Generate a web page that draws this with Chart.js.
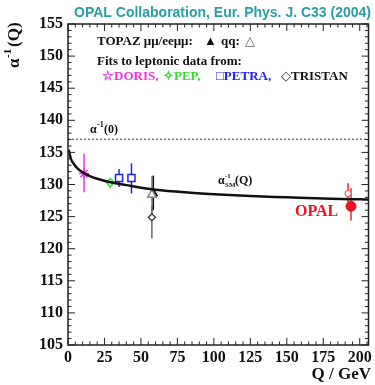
<!DOCTYPE html>
<html>
<head>
<meta charset="utf-8">
<script src="https://cdn.jsdelivr.net/npm/chart.js@4"></script>
<style>
  html, body { margin: 0; padding: 0; background: #fff; }
  #wrap { width: 375px; height: 385px; }
</style>
</head>
<body>
<div id="wrap"><canvas id="c" width="375" height="385"></canvas></div>
<script>
// running alpha^-1 (SM curve)
const smQ = [0.5, 2, 4, 7, 10, 15, 20, 30, 40, 50, 60, 80, 100, 125, 150, 175, 200, 206];
const smA = [135.4, 134.0, 133.2, 132.4, 131.9, 131.3, 130.9, 130.3, 129.9, 129.5, 129.2, 128.8, 128.5, 128.2, 128.0, 127.8, 127.7, 127.65];
const alpha0 = 137.036;

// measurements: Q, value, lower and upper end of error bar
const dorisQ = [11], dorisA = [131.7], dorisLo = [128.8], dorisHi = [134.8];
const pepQ = [29], pepA = [130.3], pepLo = [129.4], pepHi = [131.0];
const petraQ = [35, 43.5], petraA = [131.0, 131.0], petraLo = [129.6, 128.6], petraHi = [132.4, 133.3];
const topazMuQ = [58.5], topazMuA = [128.6], topazMuLo = [126.0], topazMuHi = [131.4];
const topazQqQ = [57.5], topazQqA = [128.4], topazQqLo = [125.5], topazQqHi = [131.3];
const tristanQ = [57.5], tristanA = [124.9], tristanLo = [121.6], tristanHi = [126.6];
const opalQ = [194, 192], opalA = [126.6, 128.6], opalLo = [124.4, 127.2], opalHi = [129.4, 130.2];

const xTicks = [0, 25, 50, 75, 100, 125, 150, 175, 200];
const yTicks = [105, 110, 115, 120, 125, 130, 135, 140, 145, 150, 155];

const SERIF = '"Liberation Serif", "DejaVu Serif", serif';
const SANS = '"Liberation Sans", Arial, sans-serif';

function pts(qs, as) {
  return qs.map((q, i) => ({ x: q, y: as[i] }));
}

const errSets = [
  { q: dorisQ, lo: dorisLo, hi: dorisHi, color: '#ee33dd' },
  { q: pepQ, lo: pepLo, hi: pepHi, color: '#33dd33' },
  { q: petraQ, lo: petraLo, hi: petraHi, color: '#2222ee' },
  { q: topazQqQ, lo: topazQqLo, hi: topazQqHi, color: '#888888' },
  { q: tristanQ, lo: tristanLo, hi: tristanHi, color: '#666666' },
  { q: topazMuQ, lo: topazMuLo, hi: topazMuHi, color: '#111111' },
  { q: opalQ, lo: opalLo, hi: opalHi, color: '#ee2233' }
];

// error bars under the markers
const errorBars = {
  id: 'errorBars',
  beforeDatasetsDraw(chart) {
    const { ctx, scales: { x, y } } = chart;
    ctx.save();
    ctx.lineWidth = 1.5;
    errSets.forEach(s => {
      ctx.strokeStyle = s.color;
      s.q.forEach((q, i) => {
        const px = x.getPixelForValue(q);
        ctx.beginPath();
        ctx.moveTo(px, y.getPixelForValue(s.lo[i]));
        ctx.lineTo(px, y.getPixelForValue(s.hi[i]));
        ctx.stroke();
      });
    });
    ctx.restore();
  }
};

// frame, inward ticks on all sides, and the text
const decor = {
  id: 'decor',
  afterDraw(chart) {
    const { ctx, chartArea: a, scales: { x, y } } = chart;
    ctx.save();
    ctx.strokeStyle = '#222';
    ctx.lineWidth = 1.5;
    ctx.strokeRect(a.left, a.top, a.right - a.left, a.bottom - a.top);

    ctx.lineWidth = 1;
    for (let v = 105; v <= 155; v++) {
      const py = y.getPixelForValue(v);
      const len = v % 5 === 0 ? 7 : 3.5;
      ctx.beginPath();
      ctx.moveTo(a.left, py); ctx.lineTo(a.left + len, py);
      ctx.moveTo(a.right, py); ctx.lineTo(a.right - len, py);
      ctx.stroke();
    }
    for (let v = 0; v <= 205; v += 5) {
      const px = x.getPixelForValue(v);
      const len = v % 25 === 0 ? 7 : 3.5;
      ctx.beginPath();
      ctx.moveTo(px, a.bottom); ctx.lineTo(px, a.bottom - len);
      ctx.moveTo(px, a.top); ctx.lineTo(px, a.top + len);
      ctx.stroke();
    }

    // title
    ctx.fillStyle = '#2a9ea4';
    ctx.font = 'bold 14px ' + SANS;
    ctx.textAlign = 'right';
    ctx.textBaseline = 'middle';
    ctx.fillText('OPAL Collaboration, Eur. Phys. J. C33 (2004)', 371, 13);

    // axis titles
    ctx.fillStyle = '#111';
    ctx.font = 'bold 17px ' + SERIF;
    ctx.textAlign = 'right';
    ctx.fillText('Q / GeV', 371, 375);

    ctx.save();
    ctx.translate(15, 40);
    ctx.rotate(-Math.PI / 2);
    ctx.textAlign = 'left';
    ctx.font = 'bold 17px ' + SERIF;
    ctx.fillText('α', -28, 0);
    ctx.font = 'bold 11px ' + SERIF;
    ctx.fillText('-1', -18, -7);
    ctx.font = 'bold 17px ' + SERIF;
    ctx.fillText('(Q)', -7, 0);
    ctx.restore();

    // legend block
    ctx.textAlign = 'left';
    ctx.font = 'bold 13px ' + SERIF;
    ctx.fillStyle = '#111';
    ctx.fillText('TOPAZ μμ/eeμμ:', 97, 42);
    ctx.fillText('▲', 204, 42);
    ctx.fillText('qq:', 221, 42);
    ctx.fillStyle = '#666';
    ctx.fillText('△', 245, 42);
    ctx.fillStyle = '#111';
    ctx.fillText('Fits to leptonic data from:', 97, 62);
    ctx.fillStyle = '#ee33dd';
    ctx.fillText('☆DORIS,', 102, 77);
    ctx.fillStyle = '#33dd33';
    ctx.fillText('✧PEP,', 163, 77);
    ctx.fillStyle = '#2222ee';
    ctx.fillText('□PETRA,', 216, 77);
    ctx.fillStyle = '#111';
    ctx.fillText('◇TRISTAN', 281, 77);

    // curve labels
    ctx.font = 'bold 12px ' + SERIF;
    ctx.fillText('α', 90, 130);
    ctx.font = 'bold 8px ' + SERIF;
    ctx.fillText('-1', 97, 125);
    ctx.font = 'bold 12px ' + SERIF;
    ctx.fillText('(0)', 104, 130);

    ctx.fillText('α', 218, 181);
    ctx.font = 'bold 7px ' + SERIF;
    ctx.fillText('-1', 225, 176);
    ctx.fillText('SM', 225, 185);
    ctx.font = 'bold 12px ' + SERIF;
    ctx.fillText('(Q)', 235, 181);

    ctx.fillStyle = '#ee1122';
    ctx.font = 'bold 16px ' + SERIF;
    ctx.fillText('OPAL', 295, 212);
    ctx.restore();
  }
};

new Chart(document.getElementById('c'), {
  type: 'scatter',
  data: {
    datasets: [
      {
        type: 'line',
        data: [{ x: 0, y: alpha0 }, { x: 206, y: alpha0 }],
        borderColor: '#777',
        borderWidth: 1.5,
        borderDash: [2, 2],
        pointRadius: 0
      },
      {
        type: 'line',
        data: pts(smQ, smA),
        borderColor: '#111',
        borderWidth: 2.5,
        pointRadius: 0,
        cubicInterpolationMode: 'monotone'
      },
      { data: pts(dorisQ, dorisA), pointStyle: 'star', radius: 5, borderColor: '#ee33dd', borderWidth: 1.5 },
      { data: pts(pepQ, pepA), pointStyle: 'rectRot', radius: 4, borderColor: '#33dd33', backgroundColor: '#fff', borderWidth: 1.5 },
      { data: pts(petraQ, petraA), pointStyle: 'rect', radius: 5, borderColor: '#2222ee', backgroundColor: '#fff', borderWidth: 1.5 },
      { data: pts(tristanQ, tristanA), pointStyle: 'rectRot', radius: 3.5, borderColor: '#444', backgroundColor: '#fff', borderWidth: 1.5 },
      { data: pts(topazQqQ, topazQqA), pointStyle: 'triangle', radius: 5, borderColor: '#888', backgroundColor: '#fff', borderWidth: 1.5 },
      { data: pts(topazMuQ, topazMuA), pointStyle: 'triangle', radius: 5, borderColor: '#111', backgroundColor: '#111', borderWidth: 1 },
      { data: pts(opalQ.slice(1), opalA.slice(1)), pointStyle: 'circle', radius: 3, borderColor: '#ee6677', backgroundColor: '#fff', borderWidth: 1.2 },
      { data: pts(opalQ.slice(0, 1), opalA.slice(0, 1)), pointStyle: 'circle', radius: 5, borderColor: '#ee1122', backgroundColor: '#ee1122' }
    ]
  },
  options: {
    responsive: false,
    animation: false,
    events: [],
    layout: { padding: { top: 24, right: 4, left: 0, bottom: 0 } },
    plugins: { legend: { display: false }, tooltip: { enabled: false } },
    scales: {
      x: {
        type: 'linear',
        min: 0,
        max: 206,
        afterBuildTicks: s => { s.ticks = xTicks.map(v => ({ value: v })); },
        afterFit: s => { s.height = 40; },
        grid: { display: false, drawTicks: false },
        border: { display: false },
        ticks: { color: '#111', padding: 3, maxRotation: 0, font: { family: SERIF, size: 16, weight: 'bold' } }
      },
      y: {
        min: 105,
        max: 155,
        afterBuildTicks: s => { s.ticks = yTicks.map(v => ({ value: v })); },
        afterFit: s => { s.width = 68; },
        grid: { display: false, drawTicks: false },
        border: { display: false },
        ticks: { color: '#111', padding: 5, font: { family: SERIF, size: 16, weight: 'bold' } }
      }
    }
  },
  plugins: [errorBars, decor]
});
</script>
</body>
</html>
